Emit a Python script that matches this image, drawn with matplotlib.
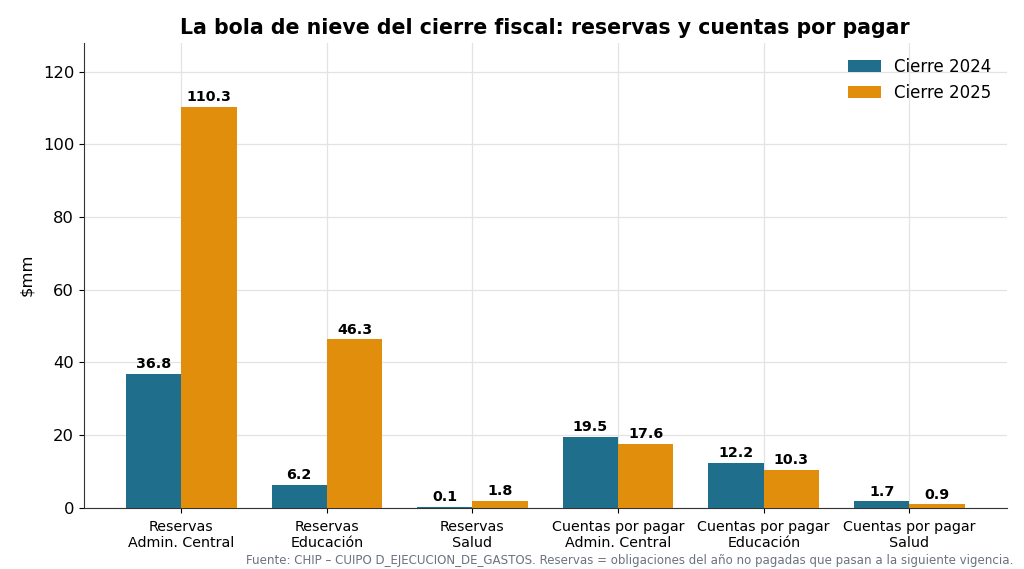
import matplotlib
matplotlib.use("Agg")
import matplotlib.pyplot as plt
import numpy as np

categories = ["Reservas\nAdmin. Central", "Reservas\nEducación", "Reservas\nSalud",
              "Cuentas por pagar\nAdmin. Central", "Cuentas por pagar\nEducación",
              "Cuentas por pagar\nSalud"]
cierre_2024 = [36.8, 6.2, 0.1, 19.5, 12.2, 1.7]
cierre_2025 = [110.3, 46.3, 1.8, 17.6, 10.3, 0.9]

fig, ax = plt.subplots(figsize=(10.24, 5.69), dpi=100)
fig.subplots_adjust(left=0.082, right=0.983, top=0.925, bottom=0.108)

x = np.arange(len(categories))
w = 0.38
b1 = ax.bar(x - w/2, cierre_2024, w, color="#1f6e8c", label="Cierre 2024", zorder=3)
b2 = ax.bar(x + w/2, cierre_2025, w, color="#e08e0b", label="Cierre 2025", zorder=3)

for bars in (b1, b2):
    ax.bar_label(bars, labels=[f"{v:.1f}" for v in bars.datavalues], padding=2,
                 fontsize=10.3, fontweight="bold")

ax.set_ylim(0, 128)
ax.set_xticks(x)
ax.set_xticklabels(categories, fontsize=10.3)
ax.tick_params(axis="x", pad=5.5)
ax.tick_params(axis="y", labelsize=11.8)
ax.set_ylabel("$mm", fontsize=11.8, labelpad=6)
ax.set_title("La bola de nieve del cierre fiscal: reservas y cuentas por pagar",
             fontsize=14.8, fontweight="bold")
ax.grid(True, color="#e3e3e3", linewidth=0.9, zorder=0)
ax.set_axisbelow(True)
for s in ("top", "right"):
    ax.spines[s].set_visible(False)
for s in ("left", "bottom"):
    ax.spines[s].set_color("#333333")
ax.legend(loc="upper right", fontsize=12, frameon=False)

fig.text(0.99, 0.004, "Fuente: CHIP – CUIPO D_EJECUCION_DE_GASTOS. Reservas = obligaciones del año no pagadas que pasan a la siguiente vigencia.",
         ha="right", va="bottom", fontsize=9.45, color="#6b7280",
         family="DejaVu Sans", fontstretch="condensed")

fig.savefig("out.png", dpi=100)
